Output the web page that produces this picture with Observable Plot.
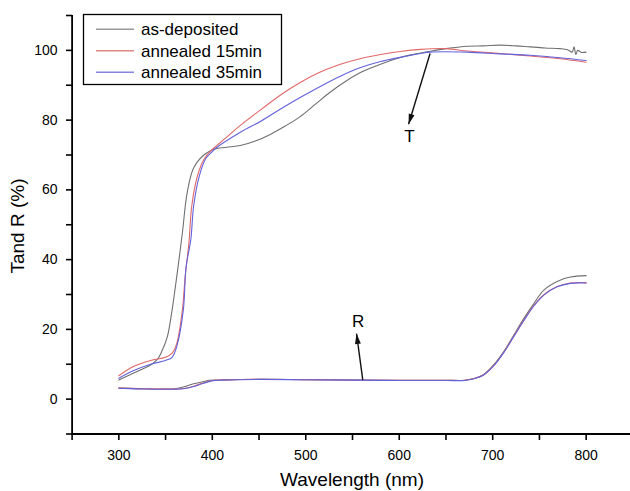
<!DOCTYPE html>
<html>
<head>
<meta charset="utf-8">
<script src="https://cdn.jsdelivr.net/npm/d3@7"></script>
<script src="https://cdn.jsdelivr.net/npm/@observablehq/plot@0.6"></script>
<style>
  html, body { margin: 0; padding: 0; background: #fff; }
  #chart { width: 630px; height: 491px; }
</style>
</head>
<body>
<div id="chart"></div>
<script>
// ---- Data ----
const seriesNames = ["as-deposited", "annealed 15min", "annealed 35min"];

// Transmittance T
const tWlGray = [300,316,334,341,346,352,357,362,368,373,380,391,401,415,430,446,462,478,494,510,526,542,559,576,594,612,630,650,673,690,708,725,740,756,772,780,785,787,789,791,795,800];
const tGray   = [5.5,7.5,9.8,11.3,13.7,18,25.6,35.2,47.7,59,66.3,70,71.6,72.2,72.7,74,75.9,78.3,81,84.5,88,91,93.7,95.6,97.4,98.7,99.6,100.5,101.2,101.3,101.5,101.3,101,100.7,100.5,100.2,99.5,101,98.8,100,99.4,99.5];

const tWlRed = [300,316,334,350,357,362,368,371,375,378,384,391,398,404,417,430,452,473,494,515,537,558,580,601,623,650,673,708,740,772,800];
const tRed   = [6.7,9.4,11.1,12,13.2,16,25.6,35.2,44.8,55.3,63.9,68.7,71.1,72.5,75.5,78.5,83,87.2,90.8,93.7,96,97.6,98.8,99.7,100.3,100.5,99.8,99.1,98.4,97.6,96.6];

const tWlBlue = [300,316,334,350,357,362,369,372,377,380,386,393,400,404,430,452,473,494,515,537,558,580,601,623,633,673,708,740,772,800];
const tBlue   = [6.0,8.2,10,11.1,12,15.1,25.6,38,45.7,55.3,63.9,69,71,72,76.5,79.7,83.2,86.5,89.6,92.6,95,96.8,98,99.1,99.5,99.5,99,98.6,97.9,97.1];

// Reflectance R
const rWlGray = [300,320,340,355,363,372,380,390,397,410,450,500,550,600,650,670,680,690,701,712,722,733,744,755,769,783,800];
const rGray   = [3.2,3.0,2.9,2.9,3.1,3.7,4.4,5.0,5.4,5.5,5.7,5.6,5.5,5.4,5.4,5.4,5.9,7.0,9.8,13.7,18.1,23,27.4,31.3,33.7,35,35.4];

const rWlColor = [300,320,340,360,371,380,390,401,410,450,500,550,600,650,670,680,690,701,712,722,733,744,755,769,783,800];
const rRed     = [3.2,3.0,2.9,2.9,3.1,3.7,4.6,5.4,5.5,5.7,5.6,5.5,5.4,5.4,5.4,5.9,6.9,9.6,13.5,17.8,22.5,26.8,30,32.3,33.3,33.4];
const rBlue    = [3.1,2.95,2.85,2.85,3.05,3.6,4.5,5.3,5.45,5.65,5.55,5.45,5.35,5.35,5.35,5.85,6.85,9.5,13.4,17.7,22.4,26.7,29.9,32.2,33.2,33.3];

// Annotations
const arrows = [
  {label: "T", x1: 633, y1: 99.1, x2: 610, y2: 78.8, lx: 611, ly: 75.4},
  {label: "R", x1: 561, y1: 5.5, x2: 554.3, y2: 18.8, lx: 556, ly: 22.2}
];

const xTicks = d3.range(250, 851, 50);
const yTicks = d3.range(-10, 111, 10);

const lineColors = ["#707070", "#e06868", "#6262dc"];
const legendColors = ["#9a9a9a", "#e08686", "#8686e2"];

const toRows = (xs, ys) => xs.map((x, i) => ({x, y: ys[i]}));

const font = "'Liberation Sans', Arial, Helvetica, sans-serif";

const lineOpts = (c) => ({x: "x", y: "y", stroke: c, strokeWidth: 1.1, curve: "catmull-rom"});

const chart = Plot.plot({
  width: 630,
  height: 491,
  marginTop: 15,
  marginLeft: 72,
  marginRight: 0,
  marginBottom: 57,
  x: {domain: [250, 850], range: [71.6, 632.4]},
  y: {domain: [-10, 110], range: [433.5, 15]},
  style: {fontFamily: font, fontSize: "14px", background: "white", color: "black"},
  marks: [
    Plot.axisX({ticks: xTicks, tickSize: 6, tickPadding: 10, strokeWidth: 1.6,
      tickFormat: d => d % 100 === 0 ? String(d) : "", label: null, fontSize: 14}),
    Plot.axisY({ticks: yTicks, tickSize: 6, tickPadding: 9, strokeWidth: 1.6,
      tickFormat: d => (d % 20 === 0 && d >= 0 && d <= 100) ? String(d) : "", label: null, fontSize: 14}),
    Plot.ruleX([250], {y1: -10, y2: 110, stroke: "black", strokeWidth: 1.8}),
    Plot.ruleY([-10], {x1: 250, x2: 850, stroke: "black", strokeWidth: 1.8}),
    Plot.line(toRows(rWlGray, rGray), lineOpts(lineColors[0])),
    Plot.line(toRows(rWlColor, rRed), lineOpts(lineColors[1])),
    Plot.line(toRows(rWlColor, rBlue), lineOpts(lineColors[2])),
    Plot.line(toRows(tWlGray, tGray), lineOpts(lineColors[0])),
    Plot.line(toRows(tWlRed, tRed), lineOpts(lineColors[1])),
    Plot.line(toRows(tWlBlue, tBlue), lineOpts(lineColors[2])),
    Plot.link(arrows, {x1: "x1", y1: "y1", x2: "x2", y2: "y2", stroke: "#111", strokeWidth: 1.4}),
    Plot.text(arrows, {x: "lx", y: "ly", text: "label", fontSize: 17, fill: "black"})
  ]
});

document.getElementById("chart").appendChild(chart);

const svg = d3.select(chart);

// filled arrowheads
const defs = svg.append("defs");
defs.append("marker")
  .attr("id", "ahead")
  .attr("viewBox", "0 0 12 8")
  .attr("refX", 12).attr("refY", 4)
  .attr("markerWidth", 12).attr("markerHeight", 7)
  .attr("markerUnits", "userSpaceOnUse")
  .attr("orient", "auto")
  .append("path").attr("d", "M0,0.6 L12,4 L0,7.4 Z").attr("fill", "#111");
svg.selectAll('g[aria-label="link"] path').attr("marker-end", "url(#ahead)");

// axis titles
svg.append("text")
  .attr("x", 352).attr("y", 486)
  .attr("text-anchor", "middle")
  .attr("font-family", font).attr("font-size", 19)
  .attr("fill", "black")
  .text("Wavelength (nm)");
svg.append("text")
  .attr("transform", "translate(24,226) rotate(-90)")
  .attr("text-anchor", "middle")
  .attr("font-family", font).attr("font-size", 19)
  .attr("fill", "black")
  .text("Tand R (%)");

// legend
const lg = svg.append("g");
lg.append("rect")
  .attr("x", 83.5).attr("y", 14.5).attr("width", 198).attr("height", 70)
  .attr("fill", "white").attr("stroke", "black").attr("stroke-width", 1.3);
seriesNames.forEach((name, i) => {
  const yy = 29.3 + i * 21.5;
  lg.append("line")
    .attr("x1", 96).attr("x2", 134).attr("y1", yy).attr("y2", yy)
    .attr("stroke", legendColors[i]).attr("stroke-width", 1.6);
  lg.append("text")
    .attr("x", 141).attr("y", yy + 5.8)
    .attr("text-anchor", "start")
    .attr("font-family", font).attr("font-size", 17)
    .attr("fill", "black")
    .text(name);
});
</script>
</body>
</html>
